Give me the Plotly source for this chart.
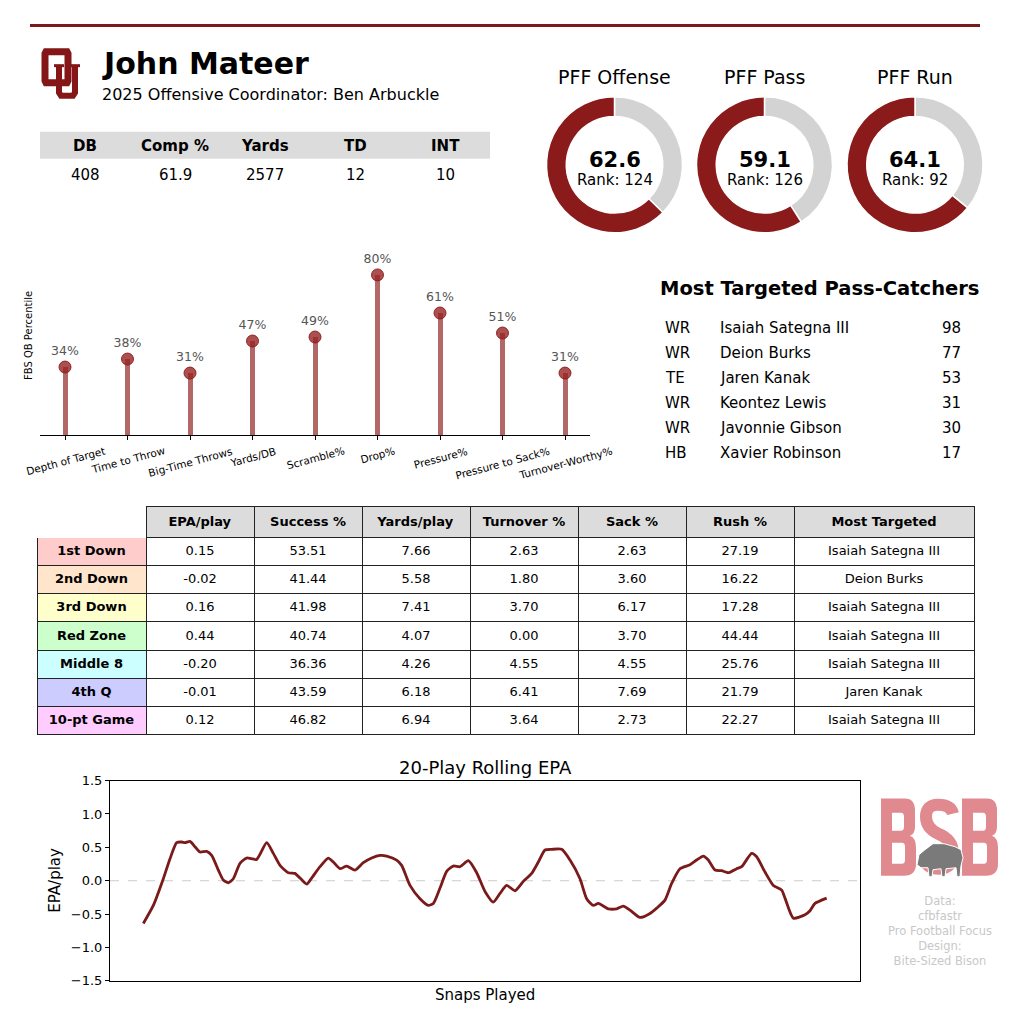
import plotly.graph_objects as go

W, H = 1024, 1019
# the page photo comes out slightly squeezed vertically; these undo that
Y0, SY = 6.4, 0.984
FONT = "DejaVu Sans"
RED = "#8b1a1a"
OU = "#841617"
PINK = "#e0898e"

# ---- data ----
stat_names = ["DB", "Comp %", "Yards", "TD", "INT"]
stat_vals = ["408", "61.9", "2577", "12", "10"]

grade_names = ["PFF Offense", "PFF Pass", "PFF Run"]
grades = [62.6, 59.1, 64.1]
grade_ranks = [124, 126, 92]

metrics = ["Depth of Target", "Time to Throw", "Big-Time Throws", "Yards/DB", "Scramble%",
           "Drop%", "Pressure%", "Pressure to Sack%", "Turnover-Worthy%"]
pctl = [34, 38, 31, 47, 49, 80, 61, 51, 31]

tgt_pos = ["WR", "WR", "TE", "WR", "WR", "HB"]
tgt_names = ["Isaiah Sategna III", "Deion Burks", "Jaren Kanak", "Keontez Lewis", "Javonnie Gibson", "Xavier Robinson"]
tgt_counts = [98, 77, 53, 31, 30, 17]

situations = ["1st Down", "2nd Down", "3rd Down", "Red Zone", "Middle 8", "4th Q", "10-pt Game"]
sit_colors = ["#ffcccc", "#ffe5cc", "#ffffcc", "#ccffcc", "#ccffff", "#ccccff", "#ffccff"]
split_cols = ["EPA/play", "Success %", "Yards/play", "Turnover %", "Sack %", "Rush %", "Most Targeted"]
epa_play = [0.15, -0.02, 0.16, 0.44, -0.20, -0.01, 0.12]
success = [53.51, 41.44, 41.98, 40.74, 36.36, 43.59, 46.82]
yds_play = [7.66, 5.58, 7.41, 4.07, 4.26, 6.18, 6.94]
turnover = [2.63, 1.80, 3.70, 0.00, 4.55, 6.41, 3.64]
sack = [2.63, 3.60, 6.17, 3.70, 4.55, 7.69, 2.73]
rush = [27.19, 16.22, 17.28, 44.44, 25.76, 21.79, 22.27]
most_tgt = ["Isaiah Sategna III", "Deion Burks", "Isaiah Sategna III", "Isaiah Sategna III",
            "Isaiah Sategna III", "Jaren Kanak", "Isaiah Sategna III"]

snaps = [20, 26, 32, 36, 40, 43, 45, 48, 51, 54, 58, 61, 65, 68, 71, 74, 78, 82, 88, 94,
         98, 102, 107, 111, 114, 118, 121, 126, 131, 134, 138, 142, 147, 152, 157, 162, 166,
         172, 175, 180, 186, 191, 194, 198, 202, 206, 210, 215, 220, 225, 230, 234, 238, 243,
         248, 253, 257, 261, 265, 271, 276, 282, 286, 290, 293, 299, 304, 308, 312, 318, 324,
         328, 333, 337, 342, 348, 352, 356, 359, 363, 367, 371, 376, 379, 385, 388, 393, 398,
         403, 405, 410, 417, 420, 423, 430]
rolling_epa = [-0.64, -0.37, 0.03, 0.33, 0.57, 0.58, 0.57, 0.59, 0.51, 0.43, 0.44, 0.38,
               0.16, 0.01, -0.03, 0.03, 0.26, 0.34, 0.32, 0.57, 0.41, 0.23, 0.12, 0.11, 0.04,
               -0.05, 0.04, 0.21, 0.34, 0.28, 0.18, 0.22, 0.16, 0.27, 0.34, 0.38, 0.37, 0.31,
               0.23, -0.07, -0.27, -0.37, -0.34, -0.11, 0.14, 0.22, 0.21, 0.30, 0.12, -0.16,
               -0.32, -0.19, -0.07, -0.15, -0.01, 0.11, 0.28, 0.46, 0.47, 0.47, 0.31, 0.03,
               -0.27, -0.37, -0.34, -0.42, -0.42, -0.38, -0.44, -0.55, -0.49, -0.41, -0.29,
               -0.04, 0.18, 0.24, 0.31, 0.37, 0.31, 0.16, 0.15, 0.12, 0.18, 0.21, 0.41, 0.36,
               0.13, -0.07, -0.14, -0.26, -0.56, -0.51, -0.45, -0.34, -0.26]


def px(x):
    return x / W


def py(y):
    return 1 - ((y - Y0) / SY) / H


def pt(x, y):
    return f"{px(x):.5f},{py(y):.5f}"


def path(pts, close=True):
    s = "M " + " L ".join(pt(x, y) for x, y in pts)
    return s + (" Z" if close else "")


def b_letter(L, R, T, B, M):
    outer = (f"M {pt(L, T)} L {pt(R - 11, T)} Q {pt(R - 1, T)} {pt(R - 1, T + 12)} "
             f"L {pt(R - 1, M - 9)} Q {pt(R - 1, M - 2)} {pt(R - 6, M)} "
             f"Q {pt(R, M + 2)} {pt(R, M + 12)} L {pt(R, B - 12)} Q {pt(R, B)} {pt(R - 12, B)} "
             f"L {pt(L, B)} Z")
    up = (f" M {pt(L + 11, T + 14)} L {pt(L + 11, M - 5)} L {pt(R - 15, M - 5)} "
          f"Q {pt(R - 12, M - 5)} {pt(R - 12, M - 9)} L {pt(R - 12, T + 18)} "
          f"Q {pt(R - 12, T + 14)} {pt(R - 15, T + 14)} Z")
    low = (f" M {pt(L + 11, M + 7)} L {pt(L + 11, B - 12)} L {pt(R - 14, B - 12)} "
           f"Q {pt(R - 11, B - 12)} {pt(R - 11, B - 16)} L {pt(R - 11, M + 11)} "
           f"Q {pt(R - 11, M + 7)} {pt(R - 14, M + 7)} Z")
    return outer + up + low


fig = go.Figure()

# situational splits table
body = [situations,
        [f"{v:.2f}" for v in epa_play], [f"{v:.2f}" for v in success],
        [f"{v:.2f}" for v in yds_play], [f"{v:.2f}" for v in turnover],
        [f"{v:.2f}" for v in sack], [f"{v:.2f}" for v in rush], most_tgt]
fig.add_trace(go.Table(
    domain=dict(x=[px(37), px(974)], y=[py(752), py(505)]),
    columnwidth=[109] + [108] * 6 + [180],
    header=dict(values=[""] + [f"<b>{c}</b>" for c in split_cols],
                fill_color=["white"] + ["#dcdcdc"] * 7,
                line=dict(color=["white"] + ["#222222"] * 7, width=1), height=28,
                align="center", font=dict(family=FONT, size=13, color="black")),
    cells=dict(values=body, fill_color=[sit_colors] + [["white"] * 7] * 7,
               line=dict(color="#222222", width=1), height=28.2, align="center",
               font=dict(family=FONT, size=13, color="black",
                         weight=["bold"] + ["normal"] * 7)),
))

# grade donuts (remainder first so the grade arc runs from 12 o'clock to the left)
centers = [614.5, 764.5, 915]
for cx, name, g, rk in zip(centers, grade_names, grades, grade_ranks):
    fig.add_trace(go.Pie(
        values=[round(100 - g, 1), g], hole=0.71, sort=False, rotation=0,
        marker=dict(colors=["#d3d3d3", RED], line=dict(color="white", width=1.5)),
        textinfo="none", hoverinfo="skip", showlegend=False,
        domain=dict(x=[px(cx - 68), px(cx + 68)], y=[py(232), py(96)]),
    ))

# percentile lollipops
fig.add_trace(go.Bar(x=list(range(len(metrics))), y=pctl, width=0.08,
                     marker=dict(color="#b36868", line=dict(width=0)),
                     hoverinfo="skip", xaxis="x", yaxis="y"))
fig.add_trace(go.Scatter(x=list(range(len(metrics))), y=pctl, mode="markers+text",
                         text=[f"{v}%" for v in pctl], textposition="top center",
                         textfont=dict(family=FONT, size=12.5, color="#555555"),
                         marker=dict(size=12, color="rgba(150,35,35,0.8)",
                                     line=dict(color="rgba(139,26,26,0.9)", width=1)),
                         hoverinfo="skip", xaxis="x", yaxis="y"))

# rolling EPA
fig.add_trace(go.Scatter(x=snaps, y=rolling_epa, mode="lines",
                         line=dict(color="#7b1a1a", width=2.8, shape="spline", smoothing=0.6),
                         hoverinfo="skip", xaxis="x2", yaxis="y2"))

S_path = (f"M {pt(953, 812)} Q {pt(951, 803)} {pt(938, 803)} Q {pt(926, 803)} {pt(926, 815)} "
          f"Q {pt(926, 826)} {pt(938, 832)} Q {pt(953, 838)} {pt(953, 852)} "
          f"Q {pt(953, 867)} {pt(939, 867)} Q {pt(927, 867)} {pt(924, 857)}")

shapes = [
    dict(type="line", xref="paper", yref="paper", x0=px(30), x1=px(980), y0=py(25), y1=py(25),
         line=dict(color="#7a1a1a", width=3)),
    dict(type="rect", xref="paper", yref="paper", x0=px(40), x1=px(490), y0=py(158), y1=py(131),
         fillcolor="#dcdcdc", line=dict(width=0), layer="below"),
    dict(type="line", xref="x2 domain", yref="y2", x0=0, x1=1, y0=0, y1=0,
         line=dict(color="#cccccc", width=1, dash="dash"), layer="below"),
    # OU logo
    dict(type="path", xref="paper", yref="paper", line=dict(color=OU, width=7),
         path=path([(46, 51), (67, 51), (68, 53), (68, 80), (67, 82), (46, 82), (45, 80), (45, 53)])),
    dict(type="path", xref="paper", yref="paper", line=dict(color=OU, width=6),
         path=path([(59, 66), (59, 92), (61, 95), (73, 95), (75, 92), (75, 66)], close=False)),
    dict(type="line", xref="paper", yref="paper", x0=px(54), x1=px(64), y0=py(65), y1=py(65),
         line=dict(color=OU, width=3)),
    dict(type="line", xref="paper", yref="paper", x0=px(71), x1=px(80), y0=py(65), y1=py(65),
         line=dict(color=OU, width=3)),
    # BSB logo
    dict(type="path", xref="paper", yref="paper", fillcolor=PINK, line=dict(width=0),
         path=b_letter(881, 916, 797, 874, 834)),
    dict(type="path", xref="paper", yref="paper", line=dict(color=PINK, width=12),
         path=S_path),
    dict(type="path", xref="paper", yref="paper", fillcolor=PINK, line=dict(width=0),
         path=b_letter(962, 998, 797, 874, 834)),
    dict(type="path", xref="paper", yref="paper", fillcolor="#7a7a7a",
         line=dict(color="white", width=1),
         path=path([(917, 863), (919, 853), (925, 848), (933, 842), (944, 842), (955, 845),
                    (961, 848), (963, 856), (961, 864), (960, 875), (957, 875), (956, 866),
                    (946, 867), (945, 875), (942, 875), (941, 867), (933, 868), (932, 875),
                    (929, 875), (928, 866), (921, 866)])),
]

ann = [
    dict(x=px(100), y=py(63), text="<b>John Mateer</b>", xanchor="left", yanchor="middle",
         font=dict(size=30, color="black")),
    dict(x=px(100), y=py(94), text="2025 Offensive Coordinator: Ben Arbuckle", xanchor="left",
         yanchor="middle", font=dict(size=16, color="black")),
    dict(x=px(819), y=py(288), text="<b>Most Targeted Pass-Catchers</b>", xanchor="center",
         yanchor="middle", font=dict(size=19.5, color="black")),
    dict(x=px(28), y=py(335), text="FBS QB Percentile", textangle=-90, xanchor="center",
         yanchor="middle", font=dict(size=10, color="black")),
    dict(x=px(485), y=py(766), text="20-Play Rolling EPA", xanchor="center", yanchor="middle",
         font=dict(size=18, color="black")),
    dict(x=px(485), y=py(993), text="Snaps Played", xanchor="center", yanchor="middle",
         font=dict(size=15, color="black")),
    dict(x=px(55), y=py(879), text="EPA/play", textangle=-90, xanchor="center", yanchor="middle",
         font=dict(size=15, color="black")),
    dict(x=px(940), y=py(929),
         text="Data:<br>cfbfastr<br>Pro Football Focus<br>Design:<br>Bite-Sized Bison",
         xanchor="center", yanchor="middle", font=dict(size=11.5, color="#c8c8c8")),
]
stat_x = [85, 175, 265, 355, 445]
for sx, s, v in zip(stat_x, stat_names, stat_vals):
    ann.append(dict(x=px(sx), y=py(145), text=f"<b>{s}</b>", xanchor="center", yanchor="middle",
                    font=dict(size=15, color="black")))
    ann.append(dict(x=px(sx), y=py(174), text=v, xanchor="center", yanchor="middle",
                    font=dict(size=15, color="black")))
for cx, name, g, rk in zip(centers, grade_names, grades, grade_ranks):
    ann.append(dict(x=px(cx), y=py(76), text=name, xanchor="center", yanchor="middle",
                    font=dict(size=19, color="black")))
    ann.append(dict(x=px(cx), y=py(159), text=f"<b>{g}</b>", xanchor="center", yanchor="middle",
                    font=dict(size=21, color="black")))
    ann.append(dict(x=px(cx), y=py(179), text=f"Rank: {rk}", xanchor="center", yanchor="middle",
                    font=dict(size=15, color="black")))
for i, m in enumerate(metrics):
    ann.append(dict(x=i, xref="x", y=py(441), yref="paper", text=m, textangle=-15,
                    xanchor="center", yanchor="top", font=dict(size=10.5, color="black")))
for i, (p, n, c) in enumerate(zip(tgt_pos, tgt_names, tgt_counts)):
    yy = py(327 + 25 * i)
    ann.append(dict(x=px(663), y=yy, text=p, xanchor="left", yanchor="middle",
                    font=dict(size=15, color="black")))
    ann.append(dict(x=px(718), y=yy, text=n, xanchor="left", yanchor="middle",
                    font=dict(size=15, color="black")))
    ann.append(dict(x=px(963), y=yy, text=str(c), xanchor="right", yanchor="middle",
                    font=dict(size=15, color="black")))
for a in ann:
    a.setdefault("xref", "paper")
    a.setdefault("yref", "paper")
    a["showarrow"] = False

fig.update_layout(
    width=W, height=H, margin=dict(l=0, r=0, t=0, b=0),
    paper_bgcolor="white", plot_bgcolor="rgba(0,0,0,0)",
    font=dict(family=FONT, color="black"),
    showlegend=False, bargap=0,
    xaxis=dict(domain=[px(40), px(590)], anchor="y", range=[-0.4, 8.4], showticklabels=False,
               ticks="outside", ticklen=4, tickcolor="black", tickvals=list(range(9)),
               showline=True, linecolor="black", linewidth=1.2, showgrid=False, zeroline=False),
    yaxis=dict(domain=[py(434), py(234)], anchor="x", range=[0, 100], visible=False,
               showgrid=False, zeroline=False),
    xaxis2=dict(domain=[px(110), px(860)], anchor="y2", range=[0, 450], showticklabels=False,
                ticks="", showline=True, mirror=True, linecolor="black", linewidth=1,
                showgrid=False, zeroline=False),
    yaxis2=dict(domain=[py(979), py(779)], anchor="x2", range=[-1.5, 1.5],
                tickvals=[-1.5, -1.0, -0.5, 0, 0.5, 1.0, 1.5], tickformat=".1f",
                ticks="outside", ticklen=4, tickcolor="black", tickfont=dict(size=13),
                showline=True, mirror=True, linecolor="black", linewidth=1,
                showgrid=False, zeroline=False),
    shapes=shapes, annotations=ann,
)

fig.write_html(
    "out.html",
    config={"displayModeBar": False},
    post_script="document.documentElement.style.margin='0';document.body.style.margin='0';",
)
